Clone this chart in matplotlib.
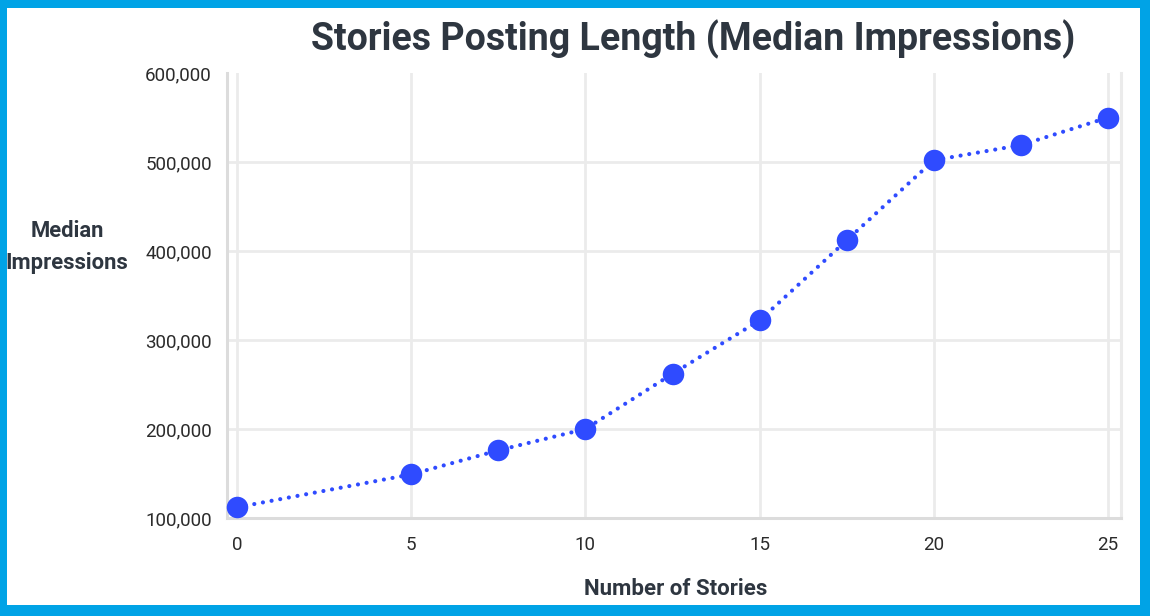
import matplotlib
matplotlib.use("Agg")
import matplotlib.pyplot as plt
from matplotlib.patches import Rectangle
from matplotlib.ticker import FuncFormatter

# data
stories = [0, 5, 7.5, 10, 12.5, 15, 17.5, 20, 22.5, 25]
impressions = [112000, 149000, 176000, 200000, 262000, 322000,
               412000, 502000, 519000, 550000]
x_ticks = [0, 5, 10, 15, 20, 25]
y_ticks = [100000, 200000, 300000, 400000, 500000, 600000]

BORDER = "#00a3e6"
DARK = "#2e3640"
TICK_TXT = "#2b2b2b"
GRID = "#ebebeb"
SPINE = "#dcdcdc"
LINE = "#2f4bff"

plt.rcParams["font.family"] = ["Roboto", "DejaVu Sans"]

W, H = 1150, 616
fig = plt.figure(figsize=(W / 100, H / 100), dpi=100)
fig.patch.set_facecolor(BORDER)
fig.add_artist(Rectangle((7 / W, 11 / H), (1140 - 7) / W, (608 - 11) / H,
                         transform=fig.transFigure, facecolor="white",
                         edgecolor="none", zorder=0))

ax = fig.add_axes([227 / W, (H - 518) / H, (1121 - 227) / W, (518 - 73) / H])
ax.set_facecolor("none")

ax.plot(stories, impressions, color=LINE, lw=3,
        linestyle=(0, (0.01, 2.1)), dash_capstyle="round",
        marker="o", markersize=15.5, markeredgewidth=0, zorder=3,
        clip_on=False)

ax.set_xlim(-10 / 34.84, 25 + 13 / 34.84)
ax.set_ylim(100000, 600000)
ax.set_xticks(x_ticks)
ax.set_yticks(y_ticks)
ax.yaxis.set_major_formatter(FuncFormatter(lambda v, p: f"{int(v):,}"))

ax.grid(True, color=GRID, lw=2, zorder=0)
ax.set_axisbelow(True)
ax.get_ygridlines()[-1].set_visible(False)

for side in ("left", "bottom", "right"):
    ax.spines[side].set_color(SPINE)
    ax.spines[side].set_linewidth(2.2)
ax.spines["right"].set_color(GRID)
ax.spines["top"].set_visible(False)

ax.tick_params(axis="both", length=0, labelsize=13.5, labelcolor=TICK_TXT)
ax.tick_params(axis="y", pad=11)
ax.tick_params(axis="x", pad=13)

fig.text(693 / W, 1 - 39 / H, "Stories Posting Length (Median Impressions)",
         ha="center", va="center", fontsize=27, fontweight="bold", color=DARK)
fig.text(67 / W, 1 - 247 / H, "Median\nImpressions", ha="center",
         va="center", fontsize=15.8, fontweight="bold", color=DARK,
         linespacing=1.55)
fig.text(676 / W, 1 - 589 / H, "Number of Stories", ha="center",
         va="center", fontsize=16, fontweight="bold", color=DARK)

fig.savefig("out.png", dpi=100, facecolor=fig.get_facecolor())
